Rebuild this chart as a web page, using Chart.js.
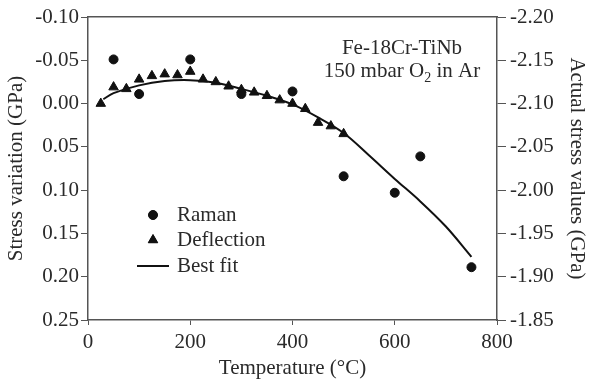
<!DOCTYPE html>
<html>
<head>
<meta charset="utf-8">
<script src="https://cdn.jsdelivr.net/npm/chart.js@4.4.1/dist/chart.umd.min.js"></script>
<style>
  body { margin: 0; background: #fff; }
  #wrap { width: 589px; height: 382px; }
</style>
</head>
<body>
<div id="wrap"><canvas id="stressChart"></canvas></div>
<script>
// Raman (cercles)
const ramanT = [50, 100, 200, 300, 400, 500, 600, 650, 750];
const ramanS = [-0.051, -0.011, -0.051, -0.011, -0.014, 0.084, 0.103, 0.061, 0.189];

// Deflection (triangles)
const deflT = [25, 50, 75, 100, 125, 150, 175, 200, 225, 250, 275, 300, 325, 350, 375, 400, 425, 450, 475, 500];
const deflS = [0.000, -0.019, -0.017, -0.028, -0.032, -0.034, -0.033, -0.037, -0.028, -0.025, -0.020, -0.016, -0.013, -0.009, -0.004, 0.000, 0.006, 0.022, 0.026, 0.035];

// Best fit
const fitT = [30, 50, 100, 150, 200, 250, 300, 350, 400, 450, 500, 550, 600, 650, 700, 750];
const fitS = [-0.005, -0.012, -0.021, -0.026, -0.027, -0.024, -0.017, -0.009, 0.001, 0.016, 0.034, 0.060, 0.087, 0.113, 0.142, 0.177];

const xTicks = [0, 200, 400, 600, 800];

const FONT = { family: 'Liberation Serif', size: 21 };
const TEXT = '#2a2a2a';
const AXIS = '#555';

function pts(xs, ys) {
    return xs.map((x, i) => ({ x: x, y: ys[i] }));
}

function fmt(v) {
    if (Math.abs(v) < 1e-9) return '0.00';
    return v.toFixed(2);
}

// legende + texte dans la zone du graphe
const extras = {
    id: 'extras',
    afterDatasetsDraw(chart) {
        const ctx = chart.ctx;
        ctx.save();
        ctx.font = '21px "Liberation Serif"';
        ctx.textBaseline = 'middle';
        ctx.textAlign = 'left';

        const ds = chart.data.datasets;
        const rows = [215, 240, 266];
        ctx.fillStyle = '#111';
        ctx.strokeStyle = '#111';
        Chart.helpers.drawPoint(ctx, { pointStyle: 'circle', radius: ds[0].pointRadius, borderWidth: 1 }, 153, rows[0]);
        ctx.fill();
        Chart.helpers.drawPoint(ctx, { pointStyle: 'triangle', radius: ds[1].pointRadius, borderWidth: 1 }, 153, rows[1]);
        ctx.fill();
        ctx.lineWidth = ds[2].borderWidth;
        ctx.beginPath();
        ctx.moveTo(137, rows[2]);
        ctx.lineTo(169, rows[2]);
        ctx.stroke();

        ctx.fillStyle = TEXT;
        ctx.fillText(ds[0].label, 177, rows[0]);
        ctx.fillText(ds[1].label, 177, rows[1]);
        ctx.fillText(ds[2].label, 177, rows[2]);

        // annotation
        ctx.textAlign = 'center';
        ctx.textBaseline = 'alphabetic';
        ctx.fillText('Fe-18Cr-TiNb', 402, 54);

        const a = '150 mbar O', b = '2', c = ' in Ar';
        const wa = ctx.measureText(a).width, wc = ctx.measureText(c).width;
        ctx.font = '14px "Liberation Serif"';
        const wb = ctx.measureText(b).width;
        let x0 = 402 - (wa + wb + wc) / 2;
        ctx.textAlign = 'left';
        ctx.font = '21px "Liberation Serif"';
        ctx.fillText(a, x0, 77);
        ctx.font = '14px "Liberation Serif"';
        ctx.fillText(b, x0 + wa, 82);
        ctx.font = '21px "Liberation Serif"';
        ctx.fillText(c, x0 + wa + wb, 77);
        ctx.restore();
    }
};

const chart = new Chart(document.getElementById('stressChart'), {
    type: 'scatter',
    data: {
        datasets: [
            {
                label: 'Raman',
                data: pts(ramanT, ramanS),
                pointStyle: 'circle',
                pointRadius: 4.5,
                backgroundColor: '#111',
                borderColor: '#111',
                yAxisID: 'y'
            },
            {
                label: 'Deflection',
                data: pts(deflT, deflS),
                pointStyle: 'triangle',
                pointRadius: 5.5,
                backgroundColor: '#111',
                borderColor: '#111',
                yAxisID: 'y'
            },
            {
                label: 'Best fit',
                data: pts(fitT, fitS),
                showLine: true,
                pointRadius: 0,
                borderWidth: 2,
                borderColor: '#111',
                tension: 0.35,
                yAxisID: 'y'
            }
        ]
    },
    options: {
        responsive: true,
        maintainAspectRatio: false,
        animation: false,
        layout: { padding: { top: 17, left: 0, right: 0, bottom: 0 } },
        plugins: {
            legend: { display: false },
            tooltip: { enabled: false }
        },
        scales: {
            x: {
                type: 'linear',
                position: 'bottom',
                min: 0,
                max: 800,
                afterBuildTicks: (s) => { s.ticks = xTicks.map(v => ({ value: v })); },
                ticks: { font: FONT, color: TEXT, padding: 5, maxRotation: 0 },
                grid: { drawOnChartArea: false, color: AXIS, tickLength: 5 },
                border: { color: AXIS, width: 1.5 },
                title: { display: true, text: 'Temperature (°C)', font: FONT, color: TEXT, padding: { top: 0, bottom: 1 } },
                afterFit: (s) => { s.height = 62; }
            },
            x2: {
                type: 'linear',
                position: 'top',
                min: 0,
                max: 800,
                ticks: { display: false },
                grid: { drawOnChartArea: false, drawTicks: false },
                border: { color: AXIS, width: 1.5 },
                afterFit: (s) => { s.height = 0; }
            },
            y: {
                type: 'linear',
                position: 'left',
                reverse: true,
                min: -0.10,
                max: 0.25,
                ticks: { stepSize: 0.05, font: FONT, color: TEXT, padding: 2, callback: fmt },
                grid: { drawOnChartArea: false, color: AXIS, tickLength: 7 },
                border: { color: AXIS, width: 1.5 },
                title: { display: true, text: 'Stress variation (GPa)', font: FONT, color: TEXT, padding: { top: 4, bottom: 0 } },
                afterFit: (s) => { s.width = 88; }
            },
            y2: {
                type: 'linear',
                position: 'right',
                reverse: true,
                min: -2.20,
                max: -1.85,
                ticks: { stepSize: 0.05, font: FONT, color: TEXT, padding: 4, callback: fmt },
                grid: { drawOnChartArea: false, color: AXIS, tickLength: 9 },
                border: { color: AXIS, width: 1.5 },
                title: { display: true, text: 'Actual stress values (GPa)', font: FONT, color: TEXT, padding: { top: 0, bottom: 2 } },
                afterFit: (s) => { s.width = 92; }
            }
        }
    },
    plugins: [extras]
});
</script>
</body>
</html>
